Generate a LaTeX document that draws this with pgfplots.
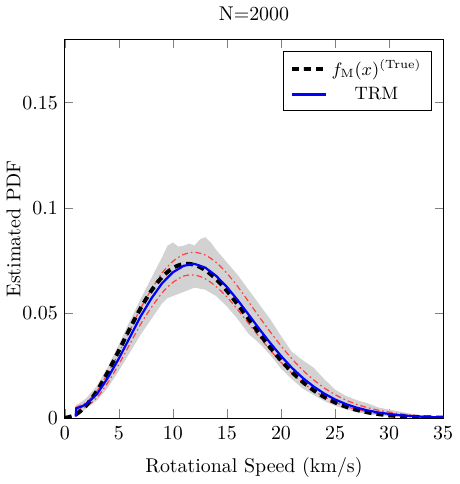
\documentclass[border=0pt]{standalone}
\usepackage{pgfplots}
\pgfplotsset{compat=1.18}
\begin{document}
\begin{tikzpicture}
\begin{axis}[
  scale only axis,
  width=190pt, height=190pt,
  xmin=0, xmax=35, ymin=0, ymax=0.18,
  xtick={0,5,10,15,20,25,30,35},
  ytick={0,0.05,0.1,0.15},
  yticklabel style={/pgf/number format/fixed},
  xticklabel style={yshift=-1pt},
  title={N=2000},
  xlabel={Rotational Speed (km/s)},
  xlabel style={yshift=-2pt},
  ylabel={Estimated PDF},
  ylabel style={yshift=-6pt},
  legend pos=north east,
  legend cell align=center,
  legend style={font=\small},
]
% gray band (upper forward, lower backward)
\addplot[fill=gray!35, draw=none, forget plot] coordinates {
(1,0.0005) (1,0.0060) (1.5,0.0075) (2,0.0095) (3,0.0155) (4,0.0245) (5,0.0350) (6,0.0460) (7,0.0565) (8,0.0665) (9,0.0765) (9.5,0.0820) (10,0.0835) (10.5,0.0815) (11,0.0820) (11.5,0.0830) (12,0.0820) (12.5,0.0850) (13,0.0860) (13.5,0.0835) (14,0.0800) (15,0.0740) (16,0.0680) (17,0.0610) (17.5,0.0575) (18,0.0540) (19,0.0470) (20,0.0390) (21,0.0315) (22,0.0275) (23,0.0240) (24,0.0185) (25,0.0135) (26,0.0105) (27,0.0085) (28,0.0070) (29,0.0050) (30,0.0040) (31,0.0030) (32,0.0020) (33,0.0013) (34,0.0009) (35,0.0006)
(35,0.0000) (34,0.0001) (33,0.0002) (32,0.0003) (31,0.0005) (30,0.0008) (29,0.0012) (28,0.0018) (27,0.0028) (26,0.0040) (25,0.0058) (24,0.0080) (23,0.0110) (22,0.0140) (21,0.0185) (20,0.0235) (19,0.0300) (18,0.0355) (17,0.0400) (16,0.0470) (15,0.0530) (14,0.0580) (13,0.0610) (12,0.0620) (11,0.0600) (10,0.0580) (9.5,0.0570) (9,0.0545) (8,0.0470) (7,0.0395) (6,0.0310) (5,0.0225) (4,0.0145) (3,0.0085) (2,0.0045) (1,0.0005)
};
% red bands
\addplot[red!75, semithick, dash pattern=on 3pt off 1.5pt on 0.8pt off 1.5pt, smooth, forget plot] coordinates {
(1,0.0050) (2,0.0075) (3,0.0130) (4,0.0215) (5,0.0310) (6,0.0415) (7,0.0520) (8,0.0610) (9,0.0690) (10,0.0745) (11,0.0778) (12,0.0788) (13,0.0775) (14,0.0740) (15,0.0688) (16,0.0625) (17,0.0553) (18,0.0480) (19,0.0410) (20,0.0343) (21,0.0282) (22,0.0228) (23,0.0182) (24,0.0143) (25,0.0111) (26,0.0085) (27,0.0065) (28,0.0049) (29,0.0037) (30,0.0028) (31,0.0020) (32,0.0014) (33,0.0010) (34,0.0007) (35,0.0005)
};
\addplot[red!75, semithick, dash pattern=on 3pt off 1.5pt on 0.8pt off 1.5pt, smooth, forget plot] coordinates {
(1,0.0035) (2,0.0055) (3,0.0098) (4,0.0170) (5,0.0255) (6,0.0350) (7,0.0445) (8,0.0525) (9,0.0595) (10,0.0645) (11,0.0675) (12,0.0680) (13,0.0662) (14,0.0625) (15,0.0575) (16,0.0515) (17,0.0450) (18,0.0385) (19,0.0323) (20,0.0265) (21,0.0213) (22,0.0168) (23,0.0131) (24,0.0100) (25,0.0075) (26,0.0055) (27,0.0040) (28,0.0029) (29,0.0020) (30,0.0014) (31,0.0009) (32,0.0006) (33,0.0004) (34,0.0002) (35,0.0001)
};
% true
\addplot[black, line width=2pt, dash pattern=on 3.5pt off 2.5pt, smooth] coordinates {
(0,0) (1,0.001546) (2,0.006042) (3,0.013073) (4,0.022004) (5,0.032048) (6,0.042348) (7,0.052074) (8,0.060494) (9,0.067041) (10,0.071348) (11,0.073272) (12,0.072854) (13,0.070333) (14,0.066059) (15,0.060457) (16,0.053993) (17,0.047101) (18,0.040171) (19,0.033518) (20,0.027390) (21,0.021923) (22,0.017190) (23,0.013223) (24,0.009972) (25,0.007378) (26,0.005357) (27,0.003819) (28,0.002672) (29,0.001836) (30,0.001240) (31,0.000822) (32,0.000535) (33,0.000343) (34,0.000215) (35,0.000133)
};
\addlegendentry{$f_{\mathrm{M}}(x)^{(\mathrm{True})}$}
% TRM
\addplot[blue, line width=1.1pt] coordinates {
(1,0.0006) (1.05,0.0046) (1.5,0.0053) (2,0.0066) (3,0.0115) (4,0.0193) (5,0.0283) (6,0.0382) (7,0.0482) (8,0.0568) (9,0.0641) (10,0.0693) (11,0.0724) (12,0.0733) (13,0.0715) (14,0.0676) (15,0.0623) (16,0.0560) (17,0.0492) (18,0.0423) (19,0.0357) (20,0.0295) (21,0.0239) (22,0.0191) (23,0.0150) (24,0.0116) (25,0.0088) (26,0.0066) (27,0.0049) (28,0.0036) (29,0.0026) (30,0.0019) (31,0.0013) (32,0.0009) (33,0.0006) (34,0.0004) (35,0.0003)
};
\addlegendentry{TRM}
\end{axis}
\end{tikzpicture}
\end{document}
